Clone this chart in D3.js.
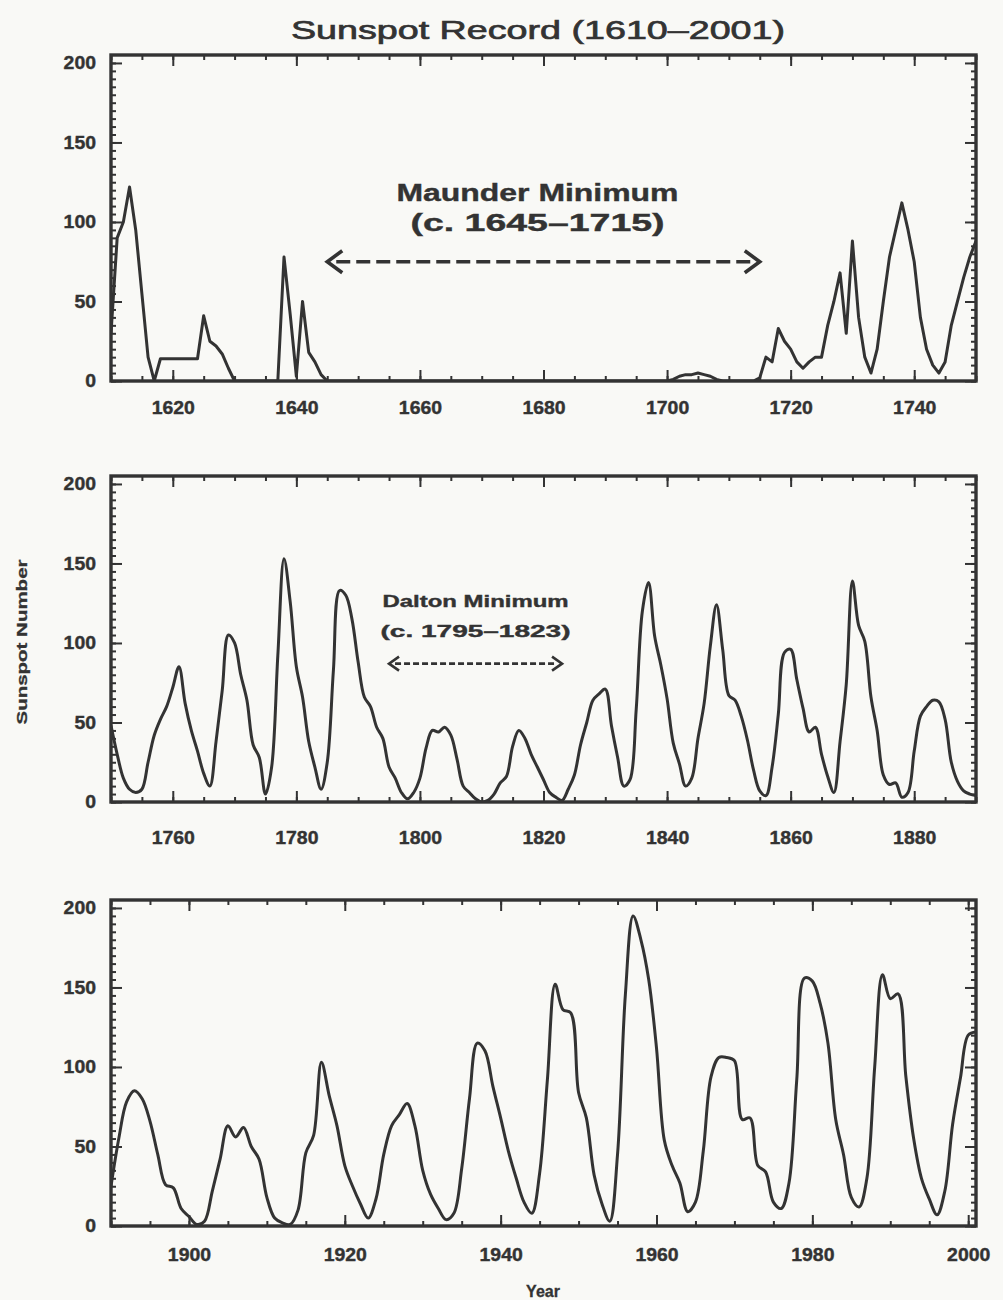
<!DOCTYPE html>
<html>
<head>
<meta charset="utf-8">
<script src="https://cdn.jsdelivr.net/npm/d3@7"></script>
<style>
    body { margin: 0; background: #f9f9f6; }
    svg { display: block; }
</style>
</head>
<body>
<div class="sunspot-chart"></div>
<script>
// Data: yearly sunspot numbers, one array per panel.
let startYear1 = 1610;
let values1 = [
    30, 90, 100, 122, 95, 55, 15, 0, 14, 14,      // 1610
    14, 14, 14, 14, 14, 41, 25, 22, 17, 8,        // 1620
    0, 0, 0, 0, 0, 0, 0, 0, 78, 42,               // 1630
    3, 50, 18, 12, 4, 0, 0, 0, 0, 0,              // 1640
    0, 0, 0, 0, 0, 0, 0, 0, 0, 0,                 // 1650
    0, 0, 0, 0, 0, 0, 0, 0, 0, 0,                 // 1660
    0, 0, 0, 0, 0, 0, 0, 0, 0, 0,                 // 1670
    0, 0, 0, 0, 0, 0, 0, 0, 0, 0,                 // 1680
    0, 0, 0, 0, 0, 0, 0, 0, 0, 0,                 // 1690
    0, 1, 3, 4, 4, 5, 4, 3, 1, 0,                 // 1700
    0, 0, 0, 0, 0, 2, 15, 12, 33, 25,             // 1710
    20, 12, 8, 12, 15, 15, 35, 50, 68, 30,        // 1720
    88, 40, 15, 5, 20, 50, 78, 95, 112, 95,       // 1730
    75, 40, 20, 10, 5, 12, 35, 50, 65, 78,        // 1740
    88                                            // 1750
];

let startYear2 = 1750;
let values2 = [
    48, 30, 15, 8, 6, 8, 25, 42, 52, 60,          // 1750
    72, 85, 62, 45, 32, 18, 10, 38, 70, 105,      // 1760
    100, 80, 64, 36, 28, 5, 22, 92, 153, 126,     // 1770
    85, 66, 38, 22, 8, 25, 83, 133, 130, 115,     // 1780
    88, 66, 60, 47, 40, 22, 15, 6, 2, 6,          // 1790
    15, 34, 45, 44, 47, 42, 27, 10, 6, 2,         // 1800
    0, 1, 5, 12, 16, 35, 45, 40, 30, 22,          // 1810
    14, 6, 3, 1, 8, 17, 36, 50, 64, 68,           // 1820
    71, 48, 28, 10, 14, 58, 120, 138, 104, 86,    // 1830
    65, 37, 24, 10, 15, 40, 62, 98, 124, 96,      // 1840
    67, 64, 54, 39, 20, 7, 4, 22, 55, 94,         // 1850
    96, 77, 59, 44, 47, 30, 16, 6, 38, 74,        // 1860
    139, 111, 101, 66, 45, 17, 11, 12, 3, 6,      // 1870
    32, 54, 60, 64, 63, 52, 25, 13, 7, 5,         // 1880
    4                                             // 1890
];

let startYear3 = 1890;
let values3 = [
    25, 55, 78, 85, 80, 66, 45, 26, 24, 11,       // 1890
    6, 1, 3, 22, 42, 63, 56, 62, 50, 42,          // 1900
    18, 5, 2, 1, 10, 46, 57, 103, 82, 63,         // 1910
    38, 25, 14, 5, 17, 45, 63, 70, 77, 63,        // 1920
    35, 20, 11, 4, 8, 36, 80, 115, 110, 88,       // 1930
    68, 47, 30, 15, 8, 33, 92, 152, 136, 134,     // 1940
    84, 68, 32, 14, 3, 45, 145, 195, 180, 155,    // 1950
    112, 54, 38, 27, 9, 15, 47, 94, 106, 106,     // 1960
    104, 67, 68, 38, 34, 15, 11, 27, 92, 156,     // 1970
    154, 140, 115, 67, 45, 18, 12, 30, 100, 158,  // 1980
    143, 146, 94, 55, 30, 17, 7, 22, 64, 93,      // 1990
    120, 122                                      // 2000
];

let domain1 = [1610, 1750],
    domain2 = [1750, 1890],
    domain3 = [1890, 2001];

let xTicks1 = [1620, 1640, 1660, 1680, 1700, 1720, 1740],
    xTicks2 = [1760, 1780, 1800, 1820, 1840, 1860, 1880],
    xTicks3 = [1900, 1920, 1940, 1960, 1980, 2000];

let yTicks = [0, 50, 100, 150, 200];

let titleText = 'Sunspot Record (1610\u20132001)',
    yTitle = 'Sunspot Number',
    xTitle = 'Year';

let maunderLines = ['Maunder Minimum', '(c. 1645\u20131715)'],
    maunderSpan = [1645, 1715];
let daltonLines = ['Dalton Minimum', '(c. 1795\u20131823)'],
    daltonSpan = [1795, 1823];

// Build constants.
let width = 1003,
    height = 1300,
    frameLeft = 111,
    frameRight = 976,
    panelHeight = 326,
    panelTops = [55, 476, 900],
    labelPads = [20, 29, 22],
    ink = '#333333',
    font = "'Liberation Sans', Arial, Helvetica, sans-serif";

// Build SVG.
let svg = d3.select('.sunspot-chart')
    .append('svg')
        .attr('width', width)
        .attr('height', height)
        .attr('font-family', font);

svg.append('rect')
    .attr('width', width)
    .attr('height', height)
    .attr('fill', '#f9f9f6');

let panels = [
    {start: startYear1, values: values1, domain: domain1, ticks: xTicks1, curve: d3.curveLinear},
    {start: startYear2, values: values2, domain: domain2, ticks: xTicks2, curve: d3.curveCatmullRom.alpha(0.5)},
    {start: startYear3, values: values3, domain: domain3, ticks: xTicks3, curve: d3.curveCatmullRom.alpha(0.5)}
];

// Stretch tick labels to the wide, heavy look of the scan.
function styleLabels(g, size) {
    g.select('.domain').remove();
    g.selectAll('line').attr('stroke', ink).attr('stroke-width', 2);
    g.selectAll('text')
        .attr('fill', ink)
        .attr('stroke', ink)
        .attr('stroke-width', 0.4)
        .attr('font-family', font)
        .attr('font-size', size)
        .attr('font-weight', 'bold')
        .attr('textLength', function() { return this.textContent.length * 10.8; })
        .attr('lengthAdjust', 'spacingAndGlyphs');
}

let scales = [];

panels.forEach((p, i) => {
    let top = panelTops[i],
        bottom = top + panelHeight;

    let x = d3.scaleLinear().domain(p.domain).range([frameLeft, frameRight]);
    let y = d3.scaleLinear().domain([0, 205]).range([bottom, top]);
    scales.push({x: x, y: y});

    let g = svg.append('g').attr('class', 'panel');

    svg.append('clipPath')
        .attr('id', 'clip' + i)
        .append('rect')
            .attr('x', frameLeft)
            .attr('y', top)
            .attr('width', frameRight - frameLeft)
            .attr('height', panelHeight);

    let minorX = d3.range(Math.ceil(p.domain[0] / 5) * 5, p.domain[1] + 0.01, 5);
    let minorY = d3.range(0, 205, 5);

    // Minor ticks on all four sides.
    g.append('g')
        .attr('transform', `translate(0, ${bottom})`)
        .call(d3.axisBottom(x).tickValues(minorX).tickSize(-5).tickFormat(''))
        .call(a => styleLabels(a, 18));
    g.append('g')
        .attr('transform', `translate(0, ${top})`)
        .call(d3.axisTop(x).tickValues(minorX).tickSize(-5).tickFormat(''))
        .call(a => styleLabels(a, 18));
    g.append('g')
        .attr('transform', `translate(${frameLeft}, 0)`)
        .call(d3.axisLeft(y).tickValues(minorY).tickSize(-5).tickFormat(''))
        .call(a => styleLabels(a, 18));
    g.append('g')
        .attr('transform', `translate(${frameRight}, 0)`)
        .call(d3.axisRight(y).tickValues(minorY).tickSize(-5).tickFormat(''))
        .call(a => styleLabels(a, 18));

    // Major ticks and labels.
    g.append('g')
        .attr('transform', `translate(0, ${bottom})`)
        .call(d3.axisBottom(x).tickValues(p.ticks).tickSize(-11).tickPadding(labelPads[i]).tickFormat(d3.format('d')))
        .call(a => styleLabels(a, 18));
    g.append('g')
        .attr('transform', `translate(0, ${top})`)
        .call(d3.axisTop(x).tickValues(p.ticks).tickSize(-11).tickFormat(''))
        .call(a => styleLabels(a, 18));
    g.append('g')
        .attr('transform', `translate(${frameLeft}, 0)`)
        .call(d3.axisLeft(y).tickValues(yTicks).tickSize(-11).tickPadding(15))
        .call(a => styleLabels(a, 18));
    g.append('g')
        .attr('transform', `translate(${frameRight}, 0)`)
        .call(d3.axisRight(y).tickValues(yTicks).tickSize(-11).tickFormat(''))
        .call(a => styleLabels(a, 18));

    // Draw the record.
    let series = p.values.map((v, k) => ({year: p.start + k, value: v}));
    let line = d3.line()
        .x(d => x(d.year))
        .y(d => y(d.value))
        .curve(p.curve);

    g.append('path')
        .datum(series)
        .attr('clip-path', `url(#clip${i})`)
        .attr('fill', 'none')
        .attr('stroke', ink)
        .attr('stroke-width', 3)
        .attr('stroke-linejoin', 'round')
        .attr('d', line);

    // Frame.
    g.append('rect')
        .attr('x', frameLeft)
        .attr('y', top)
        .attr('width', frameRight - frameLeft)
        .attr('height', panelHeight)
        .attr('fill', 'none')
        .attr('stroke', ink)
        .attr('stroke-width', 3.4);
});

// Dashed double arrow with chevron ends.
function drawArrow(x0, x1, yPos, head, dash, weight) {
    let a = svg.append('g')
        .attr('fill', 'none')
        .attr('stroke', ink)
        .attr('stroke-width', weight);
    a.append('line')
        .attr('x1', x0 + head[0] * 0.6)
        .attr('x2', x1 - head[0] * 0.6)
        .attr('y1', yPos)
        .attr('y2', yPos)
        .attr('stroke-dasharray', dash);
    a.append('polyline')
        .attr('points', [[x0 + head[0], yPos - head[1]], [x0, yPos], [x0 + head[0], yPos + head[1]]].join(' '));
    a.append('polyline')
        .attr('points', [[x1 - head[0], yPos - head[1]], [x1, yPos], [x1 - head[0], yPos + head[1]]].join(' '));
}

function drawNote(lines, cx, baselines, size, lengths) {
    svg.selectAll(null)
        .data(lines)
        .join('text')
            .attr('x', cx)
            .attr('y', (d, k) => baselines[k])
            .attr('text-anchor', 'middle')
            .attr('fill', ink)
            .attr('stroke', ink)
            .attr('stroke-width', 0.4)
            .attr('font-size', size)
            .attr('font-weight', 'bold')
            .attr('textLength', (d, k) => lengths[k])
            .attr('lengthAdjust', 'spacingAndGlyphs')
            .text(d => d);
}

// Maunder Minimum note.
let s1 = scales[0];
let mY = s1.y(75);
drawArrow(s1.x(maunderSpan[0]), s1.x(maunderSpan[1]), mY, [15, 11], '14,6', 3.6);
drawNote(maunderLines, (s1.x(maunderSpan[0]) + s1.x(maunderSpan[1])) / 2 - 6, [mY - 61, mY - 31], 24, [282, 254]);

// Dalton Minimum note.
let s2 = scales[1];
let dY = s2.y(87);
drawArrow(s2.x(daltonSpan[0]), s2.x(daltonSpan[1]), dY, [10, 7], '6,3', 2.6);
drawNote(daltonLines, (s2.x(daltonSpan[0]) + s2.x(daltonSpan[1])) / 2, [dY - 57, dY - 27], 17, [186, 190]);

// Titles.
svg.append('text')
    .attr('x', 538)
    .attr('y', 39)
    .attr('text-anchor', 'middle')
    .attr('fill', ink)
    .attr('stroke', ink)
    .attr('stroke-width', 0.7)
    .attr('font-size', 26)
    .attr('textLength', 494)
    .attr('lengthAdjust', 'spacingAndGlyphs')
    .text(titleText);

svg.append('text')
    .attr('transform', 'translate(27, 642) rotate(-90)')
    .attr('text-anchor', 'middle')
    .attr('fill', ink)
    .attr('stroke', ink)
    .attr('stroke-width', 0.3)
    .attr('font-size', 15)
    .attr('font-weight', 'bold')
    .attr('textLength', 165)
    .attr('lengthAdjust', 'spacingAndGlyphs')
    .text(yTitle);

svg.append('text')
    .attr('x', 543)
    .attr('y', 1297)
    .attr('text-anchor', 'middle')
    .attr('fill', ink)
    .attr('stroke', ink)
    .attr('stroke-width', 0.3)
    .attr('font-size', 16)
    .attr('font-weight', 'bold')
    .text(xTitle);
</script>
</body>
</html>
